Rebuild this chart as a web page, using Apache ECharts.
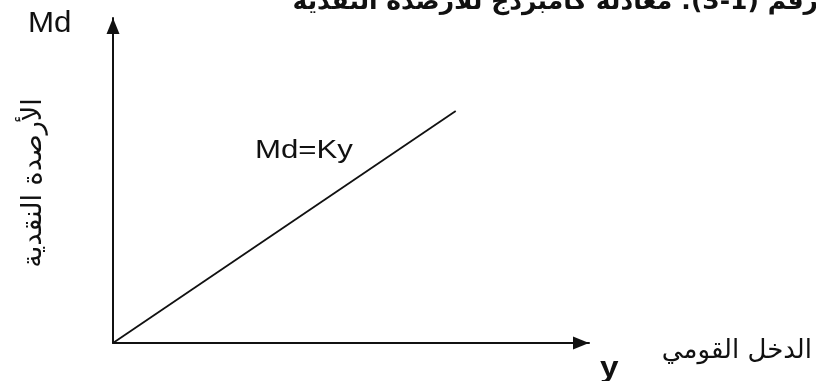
<!DOCTYPE html>
<html>
<head>
<meta charset="utf-8">
<script src="https://cdn.jsdelivr.net/npm/echarts@6/dist/echarts.min.js"></script>
<style>
  html, body { margin: 0; padding: 0; background: #fff; }
  #chart { width: 816px; height: 381px; }
</style>
</head>
<body>
<div id="chart"></div>
<script>
// Demand for money balances: Md = K·y (straight line through the origin)
const incomeY = [0, 72];
const moneyDemand = [0, 71.4];
const lineLabel = 'Md=Ky';
const figureNumber = '3-1';
const titleText = 'رقم (' + '\u202A' + figureNumber + '\u202C' + '): معادلة كامبردج للأرصدة النقدية';
const yAxisTitle = 'الأرصدة النقدية';
const xAxisTitle = 'الدخل القومي';
const yAxisSymbol = 'Md';
const xAxisSymbol = 'y';

const points = incomeY.map((x, i) => [x, moneyDemand[i]]);
const latin = '"Liberation Sans", Arial, sans-serif';
const arabic = '"DejaVu Sans", "Liberation Sans", sans-serif';
// wrap Arabic strings in a right-to-left embedding so punctuation orders correctly
const rtl = s => '\u202B' + s + '\u202C';

const axisCommon = {
  type: 'value', min: 0, max: 100,
  axisLine: { lineStyle: { color: '#111', width: 2 }, symbol: ['none', 'triangle'], symbolSize: [13, 16], symbolOffset: [0, -8] },
  axisTick: { show: false }, axisLabel: { show: false }, splitLine: { show: false }
};

const chart = echarts.init(document.getElementById('chart'), null, { renderer: 'canvas' });
chart.setOption({
  backgroundColor: '#fff',
  animation: false,
  grid: { left: 113, right: 227, top: 18, bottom: 38 },
  xAxis: axisCommon,
  yAxis: axisCommon,
  series: [{
    type: 'line',
    data: points,
    symbol: 'none',
    lineStyle: { color: '#111', width: 1.8 },
    silent: true
  }],
  graphic: [
    { type: 'text', x: 818, y: -10,
      style: { text: rtl(titleText), fontSize: 25, fontWeight: 'bold', fontFamily: arabic, fill: '#111', align: 'right' } },
    { type: 'text', x: 28, y: 9, scaleX: 1.08,
      style: { text: yAxisSymbol, fontSize: 29, fontFamily: latin, fill: '#111' } },
    { type: 'text', x: 255, y: 138, scaleX: 1.2,
      style: { text: lineLabel, fontSize: 26, fontFamily: latin, fill: '#111' } },
    { type: 'text', x: 600, y: 354, scaleX: 1.15,
      style: { text: xAxisSymbol, fontSize: 29, fontWeight: 'bold', fontFamily: latin, fill: '#111' } },
    { type: 'text', x: 812, y: 338,
      style: { text: rtl(xAxisTitle), fontSize: 26, fontFamily: arabic, fill: '#111', align: 'right' } },
    { type: 'text', x: 34, y: 183, rotation: Math.PI / 2,
      style: { text: rtl(yAxisTitle), fontSize: 27, fontFamily: arabic, fill: '#111', align: 'center', verticalAlign: 'middle' } }
  ]
});
</script>
</body>
</html>
